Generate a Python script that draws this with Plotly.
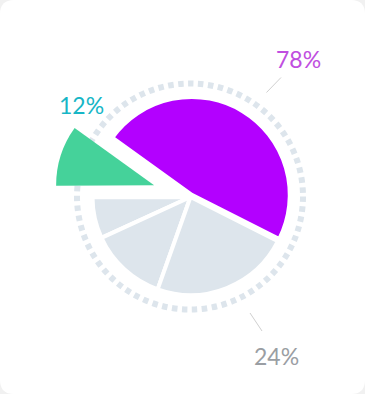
import plotly.graph_objects as go

# ---- data ----
slice_names = ["A", "B", "C", "D", "E"]
slice_values = [47.5, 10, 6.8, 12.7, 23]
slice_colors = ["#b300ff", "#45d29a", "#dde5ec", "#dde5ec", "#dde5ec"]
slice_pull = [0.025, 0.39, 0, 0, 0]
slice_border = [4, 0, 4, 4, 4]

label_texts = ["78%", "12%", "24%"]
label_colors = ["#c04ee0", "#17b6c6", "#9a9ea3"]

W, H = 365, 394
cx, cy = 190.5, 197.0   # pie centre in px (from top)
r = 98.0
half = r * (1 + max(slice_pull))

def px(x):
    return x / W

def py(y):
    return 1 - y / H

fig = go.Figure()
fig.add_trace(go.Pie(
    labels=slice_names,
    values=slice_values,
    sort=False,
    direction="counterclockwise",
    rotation=-54.2,
    pull=slice_pull,
    marker=dict(colors=slice_colors, line=dict(color="white", width=slice_border)),
    textinfo="none",
    hoverinfo="none",
    showlegend=False,
    domain=dict(x=[px(cx - half), px(cx + half)], y=[py(cy + half), py(cy - half)]),
))

# card background with rounded corners
rx, ry = 14 / W, 14 / H
card = (f"M {rx},0 L {1-rx},0 Q 1,0 1,{ry} L 1,{1-ry} Q 1,1 {1-rx},1 "
        f"L {rx},1 Q 0,1 0,{1-ry} L 0,{ry} Q 0,0 {rx},0 Z")
shapes = [dict(type="path", path=card, xref="paper", yref="paper",
               fillcolor="white", line=dict(width=0), layer="below")]

# dotted ring
rc_x, rc_y, rr = 190.0, 196.5, 113.0
shapes.append(dict(type="circle", xref="paper", yref="paper",
                   x0=px(rc_x - rr), x1=px(rc_x + rr),
                   y0=py(rc_y + rr), y1=py(rc_y - rr),
                   line=dict(color="#dde5ec", width=6, dash="5.5px,4.5px"),
                   layer="below"))

# leader lines
for (x0, y0, x1, y1) in [(266.5, 92.5, 281, 77.5), (250, 313, 262, 331)]:
    shapes.append(dict(type="line", xref="paper", yref="paper",
                       x0=px(x0), y0=py(y0), x1=px(x1), y1=py(y1),
                       line=dict(color="#d0d0d0", width=1)))

label_pos = [(298.5, 59), (81, 105), (276.5, 356)]
annotations = []
for t, c, (x, y) in zip(label_texts, label_colors, label_pos):
    annotations.append(dict(text=t, x=px(x), y=py(y), xref="paper", yref="paper",
                            showarrow=False, xanchor="center", yanchor="middle",
                            font=dict(family="Lato", size=23, color=c)))

fig.update_layout(
    width=W, height=H,
    margin=dict(l=0, r=0, t=0, b=0),
    paper_bgcolor="#f1f1f1",
    plot_bgcolor="white",
    shapes=shapes,
    annotations=annotations,
)

fig.write_html("out.html")
